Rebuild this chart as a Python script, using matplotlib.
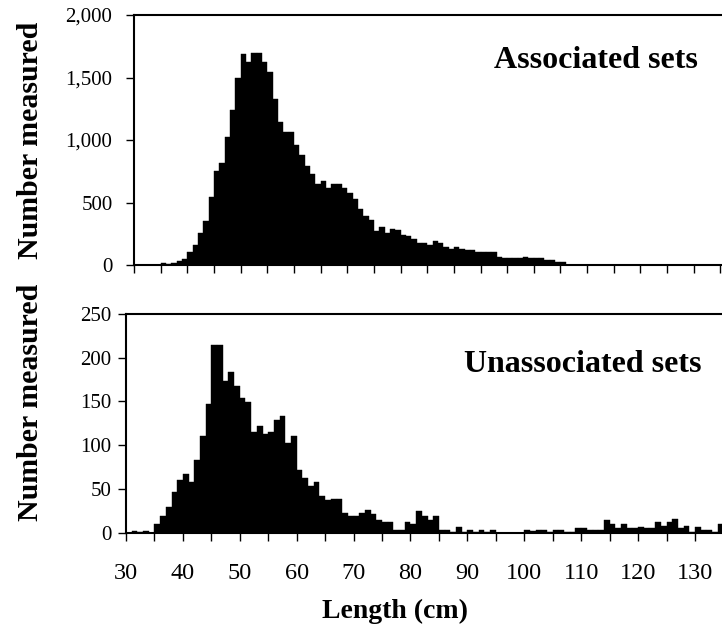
import numpy as np
import matplotlib
matplotlib.use('Agg')
import matplotlib.pyplot as plt
from matplotlib.ticker import MultipleLocator, FuncFormatter

plt.rcParams['font.family'] = 'Liberation Serif'

# length bins (cm) and counts
length_assoc = np.arange(30, 111)
count_assoc = [0, 0, 0, 2, 3,
               19, 8, 20, 36, 52,
               101, 164, 260, 356, 547,
               756, 818, 1028, 1240, 1493,
               1686, 1622, 1700, 1700, 1622,
               1544, 1331, 1141, 1061, 1061,
               960, 883, 792, 731, 645,
               675, 613, 648, 648, 613,
               579, 531, 448, 389, 357,
               275, 307, 259, 291, 280,
               243, 229, 211, 179, 179,
               160, 195, 176, 144, 131,
               147, 131, 120, 120, 101,
               101, 101, 101, 64, 53,
               53, 53, 53, 64, 53,
               53, 53, 37, 37, 21,
               21]

length_unassoc = np.arange(30, 135)
count_unassoc = [0, 2, 1, 2, 0,
                 10, 19, 29, 47, 60,
                 67, 58, 83, 110, 147,
                 214, 214, 173, 184, 168,
                 154, 149, 115, 122, 113,
                 115, 129, 133, 102, 110,
                 72, 62, 53, 58, 42,
                 37, 39, 39, 23, 19,
                 19, 23, 26, 21, 14,
                 12, 12, 3, 3, 12,
                 10, 25, 19, 14, 19,
                 3, 3, 1, 7, 1,
                 3, 1, 3, 1, 3,
                 0, 0, 0, 0, 0,
                 3, 2, 3, 3, 1,
                 3, 3, 1, 1, 5,
                 5, 3, 3, 3, 14,
                 10, 5, 10, 5, 5,
                 7, 5, 5, 12, 8,
                 12, 16, 5, 8, 1,
                 7, 3, 3, 1, 10]

W, H = 722, 639
fig = plt.figure(figsize=(W / 100, H / 100), dpi=100)

ax1 = fig.add_axes([134 / W, (H - 265) / H, 588 / W, 250 / H])
ax2 = fig.add_axes([126 / W, (H - 532.7) / H, 596 / W, 218.7 / H])

ax1.bar(length_assoc, count_assoc, width=1.0, align='edge', color='black',
        edgecolor='black', linewidth=0.3)
ax2.bar(length_unassoc, count_unassoc, width=1.0, align='edge', color='black',
        edgecolor='black', linewidth=0.3)

ax1.set_xlim(30, 140.3)
ax1.set_ylim(0, 2000)
ax2.set_xlim(30, 134.75)
ax2.set_ylim(0, 250)

comma = FuncFormatter(lambda v, p: f'{int(v):,}')
for ax in (ax1, ax2):
    ax.spines['right'].set_visible(False)
    for s in ('left', 'top', 'bottom'):
        ax.spines[s].set_linewidth(1.5)
    ax.tick_params(axis='both', which='both', direction='out', width=1.0,
                   length=5.5, colors='black')
    ax.yaxis.set_major_formatter(comma)

ax1.yaxis.set_major_locator(MultipleLocator(500))
ax1.xaxis.set_major_locator(MultipleLocator(5))
ax1.tick_params(axis='x', labelbottom=False)
ax1.tick_params(axis='y', labelsize=15, pad=10)

ax2.yaxis.set_major_locator(MultipleLocator(50))
ax2.xaxis.set_major_locator(MultipleLocator(10))
ax2.xaxis.set_minor_locator(MultipleLocator(5))
ax2.tick_params(axis='x', labelsize=17.5, pad=16)
ax2.tick_params(axis='y', labelsize=15, pad=5)

ax1.text(0.959, 0.82, 'Associated sets', transform=ax1.transAxes,
         ha='right', va='center', fontsize=23, fontweight='bold')
ax2.text(0.966, 0.771, 'Unassociated sets', transform=ax2.transAxes,
         ha='right', va='center', fontsize=23, fontweight='bold')

fig.text(31 / W, 1 - 140 / H, 'Number measured', rotation=90, ha='center',
         va='center', fontsize=21.5, fontweight='bold')
fig.text(31 / W, 1 - 402 / H, 'Number measured', rotation=90, ha='center',
         va='center', fontsize=21.5, fontweight='bold')
fig.text(395 / W, 1 - 611 / H, 'Length (cm)', ha='center', va='center',
         fontsize=20, fontweight='bold')

fig.savefig('out.png', dpi=100)
